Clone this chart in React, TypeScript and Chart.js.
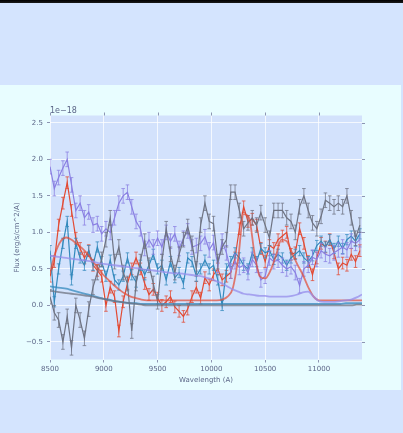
import { useEffect, useRef } from "react";
import { Chart, registerables } from "chart.js";

Chart.register(...registerables);

// Observed spectra, flux in units of 1e-18 erg/s/cm^2/A
const WAVELENGTH = [
  8500, 8540, 8580, 8620, 8660, 8700, 8740, 8780, 8820, 8860, 8900, 8940, 8980,
  9020, 9060, 9100, 9140, 9180, 9220, 9260, 9300, 9340, 9380, 9420, 9460, 9500,
  9540, 9580, 9620, 9660, 9700, 9740, 9780, 9820, 9860, 9900, 9940, 9980, 10020,
  10060, 10100, 10140, 10180, 10220, 10260, 10300, 10340, 10380, 10420, 10460,
  10500, 10540, 10580, 10620, 10660, 10700, 10740, 10780, 10820, 10860, 10900,
  10940, 10980, 11020, 11060, 11100, 11140, 11180, 11220, 11260, 11300, 11340,
  11380,
];

const FLUX_RED = [
  0.4, 0.6, 1.1, 1.4, 1.68, 1.3, 0.92, 0.78, 0.65, 0.75,
  0.55, 0.48, 0.4, 0.0, 0.25, 0.12, -0.35, 0.05, 0.3, 0.5,
  0.65, 0.5, 0.3, 0.15, 0.22, 0.1, 0.0, 0.05, 0.12, -0.02,
  -0.08, -0.15, -0.05, 0.12, 0.25, 0.1, 0.38, 0.28, 0.42, 0.5,
  0.35, 0.4, 0.45, 0.65, 1.05, 1.35, 1.15, 1.18, 1.1, 0.78,
  0.6, 0.82, 0.78, 0.9, 0.95, 1.0, 0.7, 0.72, 1.05, 0.85,
  0.6, 0.42, 0.65, 0.85, 0.8, 0.9, 0.72, 0.5, 0.58, 0.55,
  0.7, 0.6, 0.75,
];

const FLUX_BLUE = [
  0.75, 0.05, 0.5, 0.85, 1.15, 0.35, 0.85, 0.65, 0.55, 0.75,
  0.55, 0.8, 0.6, 0.4, 0.62, 0.35, 0.28, 0.4, 0.65, 0.42,
  0.32, 0.55, 0.42, 0.55, 0.7, 0.5, 0.55, 0.35, 0.6, 0.38,
  0.45, 0.3, 0.65, 0.6, 0.4, 0.5, 0.62, 0.5, 0.55, 0.35,
  0.0, 0.5, 0.6, 0.72, 0.65, 0.55, 0.5, 0.72, 0.6, 0.78,
  0.72, 0.75, 0.63, 0.7, 0.65, 0.55, 0.65, 0.7, 0.75, 0.65,
  0.6, 0.68, 0.82, 0.88, 0.8, 0.9, 0.78, 0.88, 0.78, 0.9,
  0.95, 0.88, 0.98,
];

const FLUX_PURPLE = [
  1.9, 1.6, 1.75, 1.88, 2.0, 1.65, 1.3, 1.4, 1.2, 1.28,
  1.1, 1.12, 0.98, 1.05, 1.0, 1.2, 1.4, 1.5, 1.55, 1.35,
  1.15, 1.05, 0.78, 0.9, 0.8, 0.92, 0.8, 1.0, 0.88, 0.98,
  0.78, 0.92, 1.02, 0.8, 0.82, 0.85, 0.94, 0.76, 0.86, 0.55,
  0.88, 0.72, 0.47, 0.6, 0.52, 0.55, 0.45, 0.63, 0.55, 0.35,
  0.4, 0.65, 0.6, 0.62, 0.55, 0.5, 0.53, 0.45, 0.27, 0.5,
  0.55, 0.66, 0.63, 0.75, 0.7, 0.68, 0.72, 0.76, 0.8, 0.76,
  0.88, 0.85, 0.9,
];

const FLUX_GREY = [
  0.12, -0.1, -0.2, -0.5, -0.15, -0.58, 0.0, -0.2, -0.45, -0.05,
  0.25, 0.45, 0.63, 0.9, 1.2, 0.6, 0.8, 0.45, 0.3, -0.35,
  0.3, 0.6, 0.88, 0.55, 0.3, 0.05, 0.6, 1.05, 0.7, 0.45,
  0.7, 0.9, 1.08, 0.85, 0.5, 1.1, 1.4, 1.15, 1.12, 0.6,
  0.8, 0.9, 1.55, 1.55, 1.3, 1.05, 1.13, 1.2, 1.1, 1.27,
  1.1, 0.92, 1.3, 1.3, 1.3, 1.2, 1.15, 1.0, 1.35, 1.5,
  1.3, 1.13, 1.05, 1.22, 1.44, 1.4, 1.35, 1.4, 1.35, 1.5,
  1.2, 0.92, 1.1,
];

// 1-sigma uncertainty of each spectrum
const SIGMA_RED = 0.08;
const SIGMA_BLUE = 0.07;
const SIGMA_PURPLE = 0.1;
const SIGMA_GREY = 0.1;

// Model spectra
const MODEL_WAVELENGTH = [
  8500, 8550, 8600, 8650, 8700, 8750, 8800, 8850, 8900, 8950, 9000, 9050, 9100,
  9150, 9200, 9250, 9300, 9350, 9400, 9450, 9500, 9550, 9600, 9650, 9700, 9750,
  9800, 9850, 9900, 9950, 10000, 10050, 10100, 10150, 10200, 10250, 10300,
  10350, 10400, 10450, 10500, 10550, 10600, 10650, 10700, 10750, 10800, 10850,
  10900, 10950, 11000, 11050, 11100, 11150, 11200, 11250, 11300, 11350, 11400,
];

const MODEL_RED = [
  0.45, 0.72, 0.88, 0.93, 0.9, 0.84, 0.78, 0.7, 0.6, 0.5,
  0.41, 0.34, 0.27, 0.21, 0.16, 0.12, 0.1, 0.08, 0.07, 0.07,
  0.07, 0.07, 0.07, 0.07, 0.07, 0.07, 0.07, 0.07, 0.07, 0.07,
  0.07, 0.07, 0.08, 0.12, 0.24, 0.65, 1.25, 1.2, 0.72, 0.4,
  0.37, 0.48, 0.68, 0.9, 0.88, 0.72, 0.56, 0.42, 0.25, 0.12,
  0.07, 0.07, 0.07, 0.07, 0.07, 0.07, 0.07, 0.07, 0.07,
];

const MODEL_BLUE = [
  0.26, 0.25, 0.24, 0.23, 0.21, 0.19, 0.17, 0.15, 0.13, 0.11,
  0.09, 0.08, 0.06, 0.05, 0.04, 0.03, 0.03, 0.02, 0.02, 0.02,
  0.02, 0.02, 0.02, 0.02, 0.02, 0.02, 0.02, 0.02, 0.02, 0.02,
  0.02, 0.02, 0.02, 0.02, 0.02, 0.02, 0.02, 0.02, 0.02, 0.02,
  0.02, 0.02, 0.02, 0.02, 0.02, 0.02, 0.02, 0.02, 0.02, 0.02,
  0.02, 0.02, 0.02, 0.02, 0.02, 0.03, 0.03, 0.03, 0.03,
];

const MODEL_PURPLE = [
  0.68, 0.67, 0.66, 0.65, 0.64, 0.63, 0.62, 0.61, 0.6, 0.58,
  0.57, 0.56, 0.55, 0.54, 0.53, 0.52, 0.51, 0.5, 0.49, 0.48,
  0.47, 0.46, 0.45, 0.44, 0.44, 0.43, 0.42, 0.41, 0.4, 0.38,
  0.36, 0.33, 0.3, 0.26, 0.22, 0.19, 0.16, 0.15, 0.14, 0.13,
  0.13, 0.12, 0.12, 0.12, 0.12, 0.13, 0.15, 0.18, 0.19, 0.12,
  0.06, 0.05, 0.05, 0.05, 0.06, 0.07, 0.08, 0.11, 0.15,
];

const MODEL_GREY = [
  0.2, 0.19, 0.18, 0.17, 0.16, 0.15, 0.14, 0.13, 0.12, 0.1,
  0.09, 0.07, 0.06, 0.05, 0.04, 0.03, 0.02, 0.01, 0.0, 0.0,
  0.0, 0.0, 0.0, 0.0, 0.0, 0.0, 0.0, 0.0, 0.0, 0.0,
  0.0, 0.0, 0.0, 0.0, 0.0, 0.0, 0.0, 0.0, 0.0, 0.0,
  0.0, 0.0, 0.0, 0.0, 0.0, 0.0, 0.0, 0.0, 0.0, 0.0,
  0.0, 0.0, 0.0, 0.0, 0.0, 0.0, 0.0, 0.01, 0.01,
];

const X_TICKS = [8500, 9000, 9500, 10000, 10500, 11000];
const Y_TICKS = [-0.5, 0.0, 0.5, 1.0, 1.5, 2.0, 2.5];

const X_RANGE = [8500, 11400];
const Y_RANGE = [-0.74, 2.6];

const OFFSET_LABEL = "1e\u221218";
const X_TITLE = "Wavelength (A)";
const Y_TITLE = "Flux (erg/s/cm^2/A)";

const RED = "#e24a33";
const BLUE = "#348abd";
const PURPLE = "#8a80e2";
const GREY = "#6e7382";

const TEXT = "#5c6688";
const TICK_MARK = "#8d95b2";
const FONT = "'DejaVu Sans', sans-serif";

const toPoints = (xs: number[], ys: number[]) =>
  ys.map((y, i) => ({ x: xs[i], y }));

const fmtY = (v: number) => v.toFixed(1).replace("-", "\u2212");

// Vertical error bars with small caps, drawn right after their own line
const errorBars = {
  id: "errorBars",
  afterDatasetDraw(chart: any, args: any) {
    const ds = chart.data.datasets[args.index];
    if (ds.sigma === undefined) return;
    const { ctx, chartArea } = chart;
    const yScale = chart.scales.y;
    ctx.save();
    ctx.beginPath();
    ctx.rect(chartArea.left, chartArea.top, chartArea.right - chartArea.left, chartArea.bottom - chartArea.top);
    ctx.clip();
    ctx.strokeStyle = ds.borderColor;
    ctx.globalAlpha = 0.85;
    ctx.lineWidth = 0.9;
    ctx.beginPath();
    args.meta.data.forEach((pt: any, i: number) => {
      const v = ds.data[i].y;
      const x = pt.x;
      const y1 = yScale.getPixelForValue(v + ds.sigma);
      const y2 = yScale.getPixelForValue(v - ds.sigma);
      ctx.moveTo(x, y1);
      ctx.lineTo(x, y2);
      ctx.moveTo(x - 1.8, y1);
      ctx.lineTo(x + 1.8, y1);
      ctx.moveTo(x - 1.8, y2);
      ctx.lineTo(x + 1.8, y2);
    });
    ctx.stroke();
    ctx.restore();
  },
};

// Plot background, mirrored ticks on top/right and the exponent label
const frame = {
  id: "frame",
  beforeDraw(chart: any) {
    const { ctx, chartArea } = chart;
    ctx.save();
    ctx.fillStyle = "#d3e2fc";
    ctx.fillRect(chartArea.left, chartArea.top, chartArea.right - chartArea.left, chartArea.bottom - chartArea.top);
    ctx.restore();
  },
  afterDraw(chart: any) {
    const { ctx, chartArea } = chart;
    const xs = chart.scales.x;
    const ys = chart.scales.y;
    ctx.save();
    ctx.strokeStyle = TICK_MARK;
    ctx.lineWidth = 1;
    ctx.beginPath();
    X_TICKS.forEach((v) => {
      const px = Math.round(xs.getPixelForValue(v)) + 0.5;
      ctx.moveTo(px, chartArea.top - 3);
      ctx.lineTo(px, chartArea.top);
    });
    Y_TICKS.forEach((v) => {
      const py = Math.round(ys.getPixelForValue(v)) + 0.5;
      ctx.moveTo(chartArea.right, py);
      ctx.lineTo(chartArea.right + 3, py);
    });
    ctx.stroke();
    ctx.fillStyle = TEXT;
    ctx.font = `8px ${FONT}`;
    ctx.textAlign = "left";
    ctx.textBaseline = "alphabetic";
    ctx.fillText(OFFSET_LABEL, chartArea.left, chartArea.top - 3);
    ctx.restore();
  },
};

export default function App() {
  const canvasRef = useRef<HTMLCanvasElement | null>(null);

  useEffect(() => {
    const canvas = canvasRef.current;
    if (!canvas) return;

    const dataLine = (label: string, ys: number[], color: string, sigma: number, order: number) => ({
      label,
      data: toPoints(WAVELENGTH, ys),
      borderColor: color,
      borderWidth: 1.2,
      pointRadius: 0,
      fill: false,
      tension: 0,
      sigma,
      order,
    });

    const modelLine = (label: string, ys: number[], color: string, order: number) => ({
      label,
      data: toPoints(MODEL_WAVELENGTH, ys),
      borderColor: color,
      borderWidth: 1.8,
      pointRadius: 0,
      fill: false,
      cubicInterpolationMode: "monotone" as const,
      order,
    });

    const tickFont = { family: FONT, size: 7 };
    const gridStyle = { color: "rgba(255,255,255,0.75)", lineWidth: 1, tickColor: TICK_MARK, tickLength: 3 };

    const chart = new Chart(canvas, {
      type: "line",
      data: {
        datasets: [
          dataLine("red", FLUX_RED, RED, SIGMA_RED, 8),
          dataLine("blue", FLUX_BLUE, BLUE, SIGMA_BLUE, 7),
          dataLine("purple", FLUX_PURPLE, PURPLE, SIGMA_PURPLE, 6),
          dataLine("grey", FLUX_GREY, GREY, SIGMA_GREY, 5),
          modelLine("red model", MODEL_RED, "rgba(226,74,51,0.7)", 4),
          modelLine("blue model", MODEL_BLUE, "rgba(52,138,189,0.75)", 3),
          modelLine("purple model", MODEL_PURPLE, "rgba(150,140,235,0.75)", 2),
          modelLine("grey model", MODEL_GREY, "rgba(110,115,130,0.75)", 1),
        ] as any,
      },
      options: {
        animation: false,
        responsive: false,
        devicePixelRatio: 1,
        layout: { padding: { left: 0, top: 115.5, right: 41, bottom: 43.5 } },
        plugins: {
          legend: { display: false },
          tooltip: { enabled: false },
          title: { display: false },
        },
        scales: {
          x: {
            type: "linear",
            min: X_RANGE[0],
            max: X_RANGE[1],
            afterFit: (s: any) => {
              s.height = 30;
            },
            afterBuildTicks: (s: any) => {
              s.ticks = X_TICKS.map((value) => ({ value }));
            },
            ticks: {
              callback: (v: any) => String(v),
              font: tickFont,
              color: TEXT,
              padding: 2.5,
              maxRotation: 0,
              autoSkip: false,
            },
            grid: gridStyle,
            border: { display: false },
            title: {
              display: true,
              text: X_TITLE,
              font: tickFont,
              color: TEXT,
              padding: { top: 0, bottom: 4.8 },
            },
          },
          y: {
            type: "linear",
            min: Y_RANGE[0],
            max: Y_RANGE[1],
            afterFit: (s: any) => {
              s.width = 50;
            },
            afterBuildTicks: (s: any) => {
              s.ticks = Y_TICKS.map((value) => ({ value }));
            },
            ticks: {
              callback: (v: any) => fmtY(Number(v)),
              font: tickFont,
              color: TEXT,
              padding: 4,
              autoSkip: false,
            },
            grid: gridStyle,
            border: { display: false },
            title: {
              display: true,
              text: Y_TITLE,
              font: tickFont,
              color: TEXT,
              padding: { top: 13.3, bottom: 0 },
            },
          },
        },
      } as any,
      plugins: [frame, errorBars],
    });

    return () => chart.destroy();
  }, []);

  return (
    <div
      style={{
        position: "fixed",
        left: 0,
        top: 0,
        width: 403,
        height: 433,
        background: "#d4e4fe",
        overflow: "hidden",
      }}
    >
      <div style={{ position: "absolute", left: 0, top: 0, width: 403, height: 3, background: "linear-gradient(#000, #1a1a1a)" }} />
      <div style={{ position: "absolute", left: 0, top: 85, width: 401, height: 305, background: "#e8fdff" }} />
      <canvas
        ref={canvasRef}
        width={403}
        height={433}
        style={{ position: "absolute", left: 0, top: 0, display: "block" }}
      />
    </div>
  );
}
